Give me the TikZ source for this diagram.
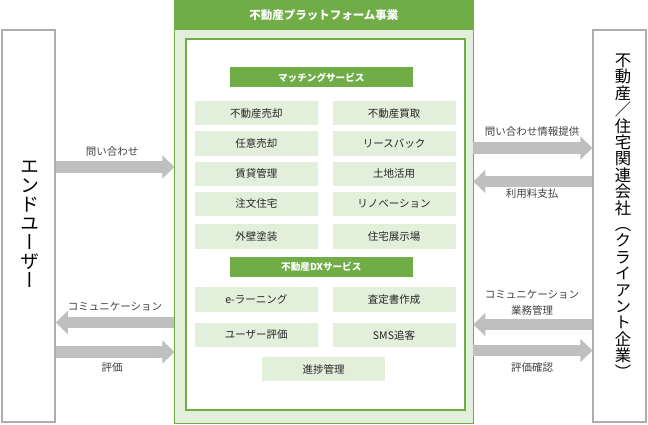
\documentclass[tikz,border=0pt]{standalone}
\usepackage{fontspec}
\setmainfont{Noto Sans CJK JP}
\newfontfamily\tatefont{Noto Sans CJK JP}[RawFeature=+vert]
\usetikzlibrary{arrows.meta}
\definecolor{leafgreen}{HTML}{70AD47}
\definecolor{palegreen}{HTML}{E2EFDA}
\definecolor{arrowgray}{HTML}{BFBFBF}
\definecolor{framegray}{HTML}{ADADAD}

\begin{document}
\begin{tikzpicture}[x=1pt, y=-1pt,
		svc/.style={fill=palegreen, minimum width=123pt, minimum height=24.5pt, inner sep=0pt, text=black!85, font=\fontsize{10.5}{12}\selectfont},
		bar/.style={fill=leafgreen, minimum width=183pt, minimum height=20pt, inner sep=0pt, text=white, font=\bfseries\fontsize{9.6}{12}\selectfont},
		party/.style={draw=framegray, line width=1.5pt, fill=white, minimum width=53pt, minimum height=392pt, inner sep=0pt},
		flow/.style={draw=arrowgray, line width=11.5pt, -{Triangle[length=12pt, width=22.5pt]}},
		flowtxt/.style={inner sep=0pt, text=black!75, font=\fontsize{10.5}{15.6}\selectfont, align=center}]
				\useasboundingbox (0,0) rectangle (648,425);
				% Parties and platform:
				\node[party] (enduser) at (28.5,226) {};
				\node[party] (client) at (619.7,226) {};
				\node[inner sep=0pt, align=center, font=\tatefont\fontsize{19}{19}\selectfont] (enduserT) at (30,224) {エ\\ン\\ド\\ユ\\ー\\ザ\\ー};
				\node[inner sep=0pt, align=center, font=\tatefont\fontsize{16.3}{16.4}\selectfont] (clientT) at (623,216) {不\\動\\産\\／\\住\\宅\\関\\連\\会\\社\\（\\ク\\ラ\\イ\\ア\\ン\\ト\\企\\業\\）};
				\node[draw=leafgreen, fill=palegreen, minimum width=298.5pt, minimum height=423pt, inner sep=0pt] (platform) at (323.9,211.5) {};
				\node[fill=leafgreen, minimum width=298.5pt, minimum height=30pt, inner sep=0pt, anchor=north] (header) at (platform.north) {};
				\node[text=white, font=\bfseries\fontsize{11.5}{14}\selectfont] (title) at (header.center) {不動産プラットフォーム事業};
				\node[draw=leafgreen, line width=2pt, fill=white, minimum width=279pt, minimum height=371pt, inner sep=0pt] (stage) at (325.5,224.5) {};
				% Matching services:
				\node[bar] (matching) at (321.3,77.3) {マッチングサービス};
				\node[svc] (m1) at (256.3,113.2) {不動産売却};
				\node[svc] (m2) at (394,113.2) {不動産買取};
				\node[svc] (m3) at (256.3,143.7) {任意売却};
				\node[svc] (m4) at (394,143.7) {リースバック};
				\node[svc] (m5) at (256.3,173.8) {賃貸管理};
				\node[svc] (m6) at (394,173.8) {土地活用};
				\node[svc] (m7) at (256.3,203.8) {注文住宅};
				\node[svc] (m8) at (394,203.8) {リノベーション};
				\node[svc] (m9) at (256.3,236.3) {外壁塗装};
				\node[svc] (m10) at (394,236.3) {住宅展示場};
				% DX services:
				\node[bar] (dx) at (321.3,267.3) {不動産DXサービス};
				\node[svc] (d1) at (256.3,299.7) {e-ラーニング};
				\node[svc] (d2) at (394,299.7) {査定書作成};
				\node[svc] (d3) at (256.3,335) {ユーザー評価};
				\node[svc] (d4) at (394,335) {SMS追客};
				\node[svc] (d5) at (323.5,369.2) {進捗管理};
				% Flows, end user side:
				\draw[flow] (enduser.east |- 0,167) -- (platform.west |- 0,167);
				\node[flowtxt] (L1) at (112,152) {問い合わせ};
				\draw[flow] (platform.west |- 0,322.5) -- (enduser.east |- 0,322.5);
				\node[flowtxt] (L2) at (115,306.5) {コミュニケーション};
				\draw[flow] (enduser.east |- 0,352) -- (platform.west |- 0,352);
				\node[flowtxt] (L3) at (112,368) {評価};
				% Flows, client side:
				\draw[flow] (platform.east |- 0,148) -- (client.west |- 0,148);
				\node[flowtxt] (R1) at (532,131.5) {問い合わせ情報提供};
				\draw[flow] (client.west |- 0,181.5) -- (platform.east |- 0,181.5);
				\node[flowtxt] (R2) at (532,194) {利用料支払};
				\draw[flow] (client.west |- 0,324.5) -- (platform.east |- 0,324.5);
				\node[flowtxt] (R3) at (532,303) {コミュニケーション\\業務管理};
				\draw[flow] (platform.east |- 0,350.5) -- (client.west |- 0,350.5);
				\node[flowtxt] (R4) at (532,368) {評価確認};
\end{tikzpicture}
\end{document}
